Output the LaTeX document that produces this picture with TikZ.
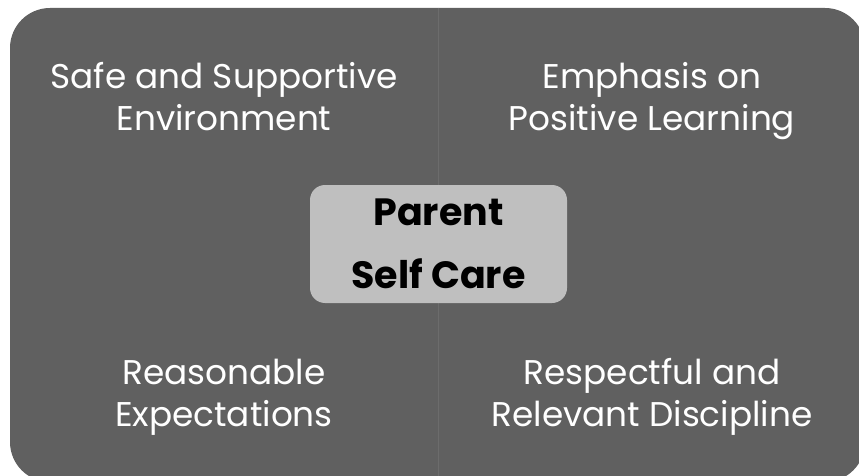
\documentclass[tikz,border=0pt]{standalone}
\usepackage{fontspec}
\setmainfont{Poppins}
\begin{document}
\begin{tikzpicture}[x=1pt,y=-1pt,
  panel/.style={fill=panelgray, draw=none},
  quadtext/.style={text=white, align=center, anchor=base, font=\fontsize{34.3}{42}\selectfont, inner sep=0pt},
  hubbox/.style={fill=hubgray, draw=none, rounded corners=15pt},
  hubtext/.style={text=black, align=center, anchor=base, font=\bfseries\fontsize{38}{63}\selectfont, inner sep=0pt}]
\definecolor{panelgray}{RGB}{96,96,96}
\definecolor{dividergray}{RGB}{108,108,108}
\definecolor{hubgray}{RGB}{191,191,191}
\useasboundingbox (0,0) rectangle (859,476);
\begin{scope}
  \clip (0,0) rectangle (859,476);
  % outer matrix panel
  \fill[panel, rounded corners=40pt] (10,8) rectangle (865,482);
  % divider between the two columns
  \coordinate (divtop) at (438,8);
  \coordinate (divbot) at (438,476);
  \draw[dividergray, line width=1pt] (divtop) -- (divbot);
\end{scope}
% central box
\node[hubbox, minimum width=257pt, minimum height=118pt] (hub) at (438.5,244) {};
\node[hubtext] (hublabel) at (438.5,288) {Parent\\Self Care};
% quadrant labels (anchored at the baseline of the last line)
\node[quadtext] (tl) at (224,131) {Safe and Supportive\\Environment};
\node[quadtext] (tr) at (652,131) {Emphasis on\\Positive Learning};
\node[quadtext] (bl) at (224,426) {Reasonable\\Expectations};
\node[quadtext] (br) at (652,426) {Respectful and\\Relevant Discipline};
\end{tikzpicture}
\end{document}
